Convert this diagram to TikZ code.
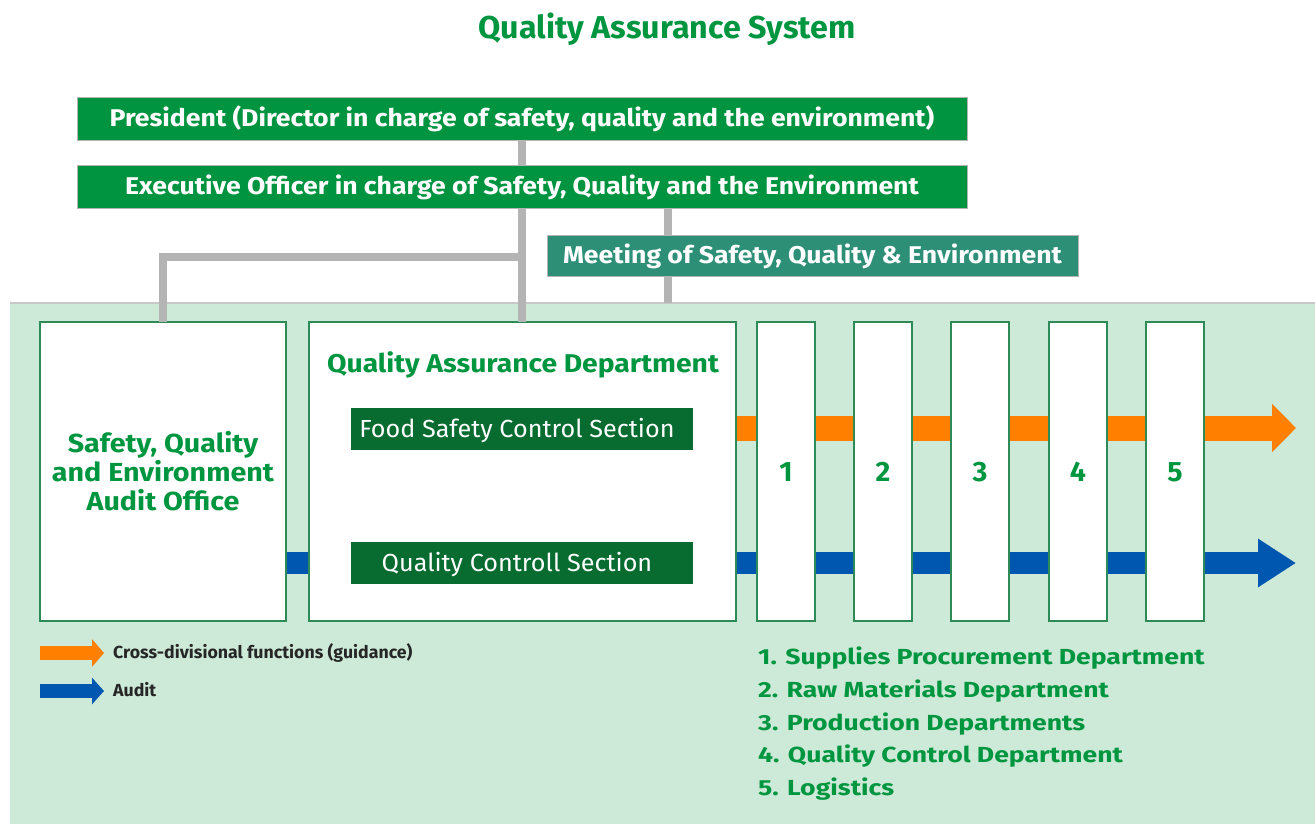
\documentclass[tikz,border=0pt]{standalone}
\usepackage{fontspec}
\setmainfont{Fira Sans}[FakeStretch=1.1]
\newfontfamily\listfont{Fira Sans}[FakeStretch=1.22]
\newfontfamily\plainfont{Fira Sans}[FakeStretch=1.02]
\usetikzlibrary{arrows.meta}
\definecolor{tgreen}{RGB}{0,150,64}
\definecolor{boxgreen}{RGB}{0,148,64}
\definecolor{meetteal}{RGB}{46,143,119}
\definecolor{darkg}{RGB}{8,107,47}
\definecolor{bglight}{RGB}{205,233,215}
\definecolor{bordg}{RGB}{46,139,87}
\definecolor{linegray}{RGB}{180,180,180}
\definecolor{arrorange}{RGB}{255,128,0}
\definecolor{arrblue}{RGB}{0,87,176}
\pgfdeclarelayer{back}
\pgfdeclarelayer{mid}
\pgfsetlayers{back,mid,main}
\begin{document}
\begin{tikzpicture}[x=1pt,y=-1pt,
  topbox/.style={fill=boxgreen, draw=linegray, line width=0.8pt, text=white, inner sep=0pt, outer sep=0pt,
    minimum width=890pt, minimum height=43pt, anchor=north west,
    font=\fontsize{24.2pt}{28pt}\selectfont\bfseries, text height=16.7pt, text depth=0pt},
  meetbox/.style={fill=meetteal, draw=linegray, line width=0.8pt, text=white, inner sep=0pt, outer sep=0pt,
    minimum width=531pt, minimum height=41pt, anchor=north west,
    font=\fontsize{24.2pt}{28pt}\selectfont\bfseries, text height=16.7pt, text depth=0pt},
  whitebox/.style={fill=white, draw=bordg, line width=1.5pt, inner sep=0pt, outer sep=0pt,
    minimum height=299pt, anchor=north west, text=tgreen},
  secbox/.style={fill=darkg, draw=none, text=white, inner sep=0pt, outer sep=0pt,
    minimum width=342pt, minimum height=42pt,
    font=\plainfont\fontsize{24.7pt}{28pt}\selectfont, text height=17pt, text depth=0pt},
  numbox/.style={whitebox, minimum width=58pt,
    font=\plainfont\fontsize{28pt}{30pt}\selectfont\bfseries, text height=19.3pt, text depth=0pt},
  conn/.style={draw=linegray, line width=8pt},
  listitem/.style={anchor=base west, text=tgreen, inner sep=0pt,
    font=\listfont\fontsize{21.8pt}{24pt}\selectfont\bfseries},
  legtext/.style={anchor=west, text=black!85, inner sep=0pt,
    font=\plainfont\fontsize{17.4pt}{19pt}\selectfont\bfseries, text height=12pt, text depth=0pt},
  orangeflow/.style={draw=arrorange, line width=25pt, -{Triangle[length=24pt, width=47pt, fill=arrorange]}},
  blueflow/.style={draw=arrblue, line width=22pt, -{Triangle[length=38pt, width=46pt, fill=arrblue]}},
  legorange/.style={draw=arrorange, line width=14pt, -{Triangle[length=12pt, width=27pt, fill=arrorange]}},
  legblue/.style={draw=arrblue, line width=14pt, -{Triangle[length=12pt, width=26pt, fill=arrblue]}}
]
\useasboundingbox (0,0) rectangle (1315,824);
\begin{pgfonlayer}{back}
  \fill[white] (0,0) rectangle (1315,824);
  \fill[bglight] (10,303) rectangle (1315,824);
  \draw[draw=black!22, line width=1.5pt] (10,303) -- (1315,303);
\end{pgfonlayer}

% title
\node[anchor=base, text=tgreen, inner sep=0pt, font=\plainfont\fontsize{31.6pt}{34pt}\selectfont\bfseries] (title) at (667,39) {Quality Assurance System};

% top boxes
\node[topbox] (pres) at (77,97) {President (Director in charge of safety, quality and the environment)};
\node[topbox] (exec) at (77,165) {Executive Officer in charge of Safety, Quality and the Environment};
\node[meetbox] (meet) at (547,235) {Meeting of Safety, Quality \& Environment};

% lower white boxes
\node[whitebox, minimum width=246pt, align=center, font=\fontsize{26.1pt}{29pt}\selectfont\bfseries] (audit) at (40,322)
  {Safety, Quality\\and Environment\\Audit Office};
\node[whitebox, minimum width=427pt] (qa) at (309,322) {};
\node[anchor=base, text=tgreen, inner sep=0pt, font=\fontsize{25.7pt}{28pt}\selectfont\bfseries] (qatitle) at (523,372) {Quality Assurance Department};
\node[secbox] (food) at (522,429) {\hspace*{-10pt}Food Safety Control Section};
\node[secbox] (qcs) at (522,563) {\hspace*{-10pt}Quality Controll Section};

\node[numbox] (d1) at (757,322) {1};
\node[numbox] (d2) at (854,322) {2};
\node[numbox] (d3) at (951,322) {3};
\node[numbox] (d4) at (1049,322) {4};
\node[numbox] (d5) at (1146,322) {5};

% connectors
\coordinate (mx) at (668,0);
\coordinate (bgtop) at (0,303);
\coordinate (jn) at (522,257);
\draw[conn] (pres.south) -- (exec.north);
\draw[conn] (exec.south) -- (qa.north -| exec.south);
\draw[conn] (exec.south -| mx) -- (meet.north -| mx);
\draw[conn] (meet.south -| mx) -- (bgtop -| mx);
\draw[conn, line join=miter] (jn) -| (audit.north);

% flows
\coordinate (otip) at (1296,428);
\coordinate (btip) at (1296,563);
\begin{pgfonlayer}{mid}
  \draw[orangeflow] (qa.east |- otip) -- (otip);
  \draw[blueflow] (audit.east |- btip) -- (btip);
\end{pgfonlayer}

% legend
\coordinate (lo1) at (40,653);
\coordinate (lo2) at (104,653);
\coordinate (lb1) at (40,691);
\coordinate (lb2) at (104,691);
\draw[legorange] (lo1) -- (lo2);
\draw[legblue] (lb1) -- (lb2);
\node[legtext] (lgo) at (113,652) {Cross-divisional functions (guidance)};
\node[legtext] (lgb) at (113,690) {Audit};

% list
\node[listitem] (l1) at (758,664) {1. Supplies Procurement Department};
\node[listitem] (l2) at (758,697) {2. Raw Materials Department};
\node[listitem] (l3) at (758,730) {3. Production Departments};
\node[listitem] (l4) at (758,762) {4. Quality Control Department};
\node[listitem] (l5) at (758,795) {5. Logistics};
\end{tikzpicture}
\end{document}
